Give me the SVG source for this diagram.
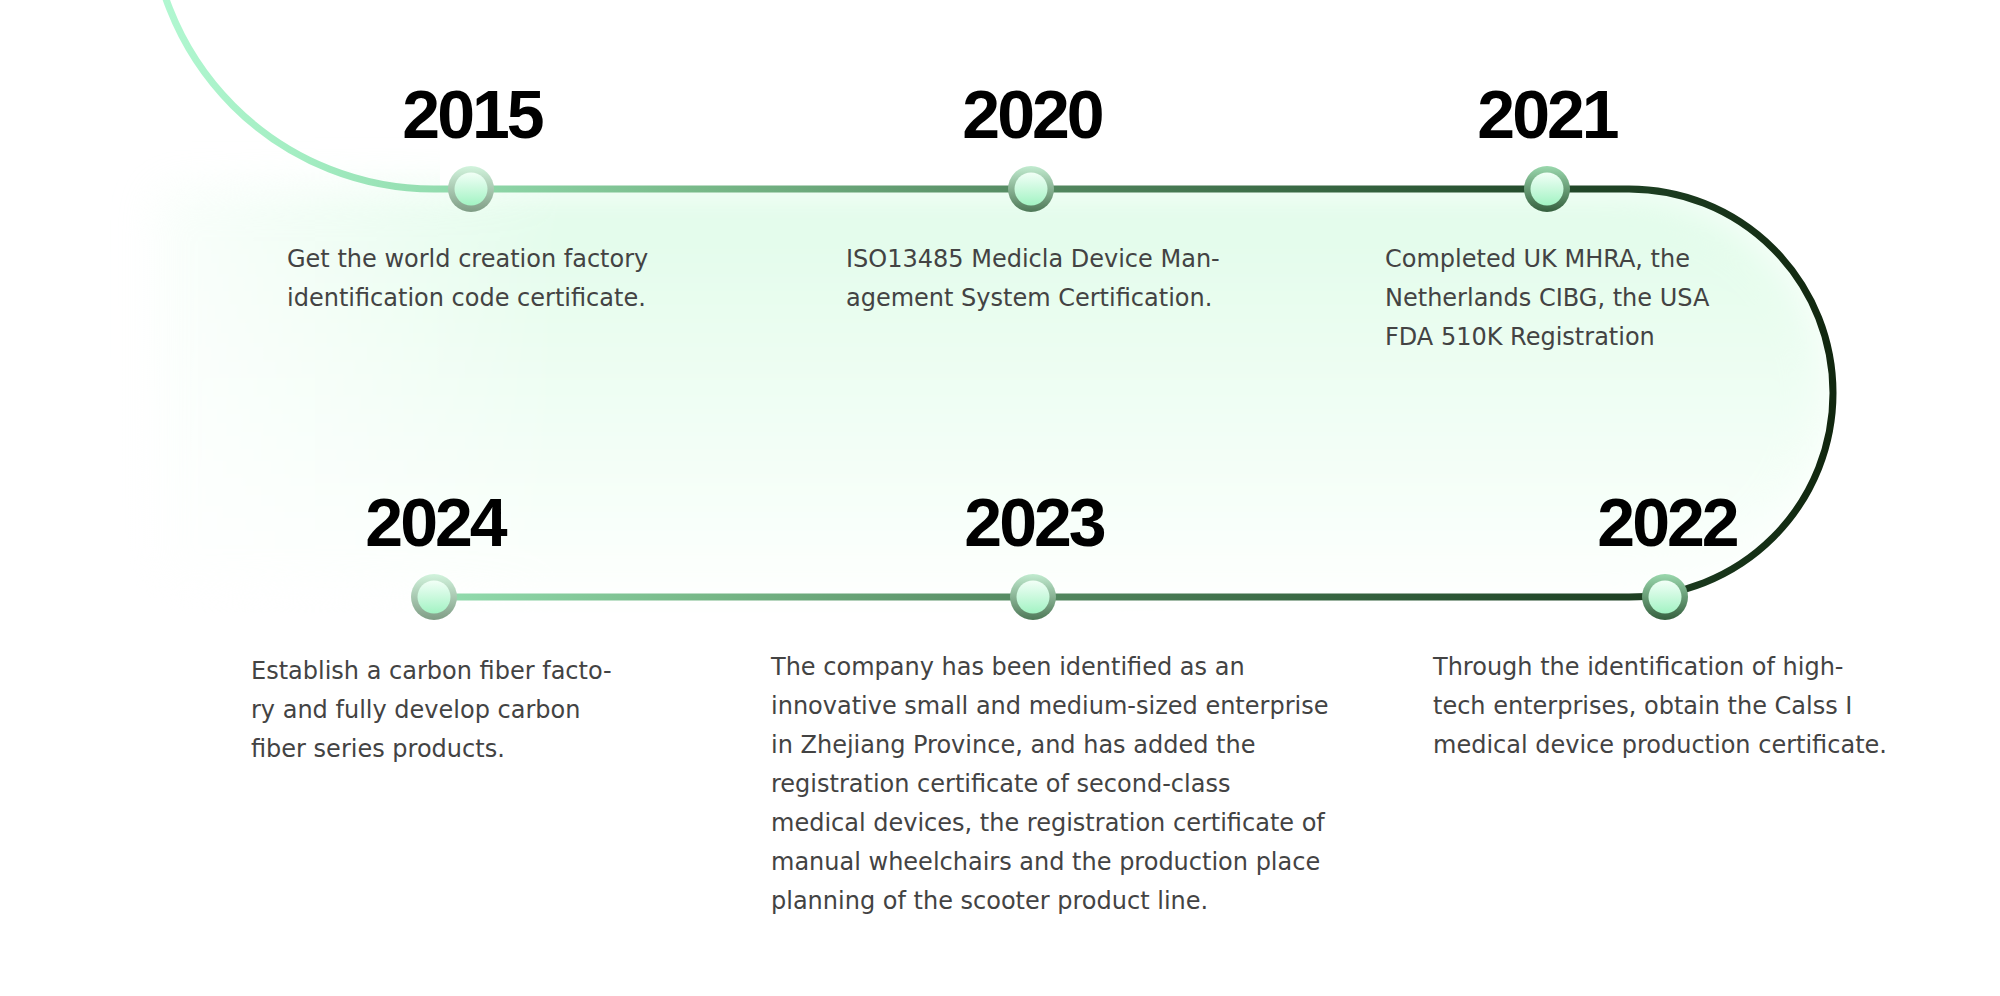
<svg xmlns="http://www.w3.org/2000/svg" width="2000" height="996" viewBox="0 0 2000 996">
<style>
.yr{font-family:"Liberation Sans",Arial,sans-serif;font-weight:700;font-size:68px;letter-spacing:-3px;fill:#000;text-anchor:middle}
.ds{font-family:"DejaVu Sans","Noto Sans",sans-serif;font-size:24px;fill:#434343}
</style>
<defs>
<linearGradient id="lineG" gradientUnits="userSpaceOnUse" x1="150" y1="0" x2="1833" y2="0">
<stop offset="0" stop-color="#b2f8d2"/>
<stop offset="0.09" stop-color="#a3edc2"/>
<stop offset="0.19" stop-color="#8fd8aa"/>
<stop offset="0.33" stop-color="#77b888"/>
<stop offset="0.52" stop-color="#558a62"/>
<stop offset="0.68" stop-color="#3a6a45"/>
<stop offset="0.83" stop-color="#234a2b"/>
<stop offset="1" stop-color="#11270f"/>
</linearGradient>
<linearGradient id="fillG" gradientUnits="userSpaceOnUse" x1="0" y1="189" x2="0" y2="620">
<stop offset="0" stop-color="#e0fce9"/>
<stop offset="0.55" stop-color="#f1fef5"/>
<stop offset="1" stop-color="#ffffff"/>
</linearGradient>
<linearGradient id="maskG" gradientUnits="userSpaceOnUse" x1="70" y1="0" x2="560" y2="0">
<stop offset="0" stop-color="#000"/>
<stop offset="1" stop-color="#fff"/>
</linearGradient>
<mask id="leftFade" maskUnits="userSpaceOnUse" x="0" y="0" width="2000" height="996">
<rect x="0" y="0" width="2000" height="996" fill="url(#maskG)"/>
</mask>
<clipPath id="fillClip">
<path d="M0,100 L440,140 L440,189 L1629,189 A204,204 0 0 1 1629,597 L1000,615 L0,690 Z"/>
</clipPath>
<filter id="soft" x="-10%" y="-20%" width="120%" height="140%">
<feGaussianBlur stdDeviation="22"/>
</filter>
<linearGradient id="ringL" x1="0" y1="0" x2="0" y2="1">
<stop offset="0" stop-color="#d2f4dd"/>
<stop offset="1" stop-color="#7f9c85"/>
</linearGradient>
<linearGradient id="ringM" x1="0" y1="0" x2="0" y2="1">
<stop offset="0" stop-color="#c2ecd0"/>
<stop offset="1" stop-color="#4e7857"/>
</linearGradient>
<linearGradient id="ringD" x1="0" y1="0" x2="0" y2="1">
<stop offset="0" stop-color="#9ad8ad"/>
<stop offset="1" stop-color="#355f3e"/>
</linearGradient>
<linearGradient id="innerG" x1="0" y1="0" x2="0" y2="1">
<stop offset="0" stop-color="#f2fff7"/>
<stop offset="1" stop-color="#a2f3c3"/>
</linearGradient>
</defs>
<rect x="0" y="0" width="2000" height="996" fill="#ffffff"/>
<g clip-path="url(#fillClip)">
<g mask="url(#leftFade)">
<path d="M150,189 L1629,189 A204,204 0 0 1 1629,597 L150,597 Z" fill="url(#fillG)" filter="url(#soft)"/>
</g>
</g>

<g id="connectors">
<path d="M150,-96 A284,284 0 0 0 434,189 L1629,189 A204,204 0 0 1 1629,597 L434,597" fill="none" stroke="url(#lineG)" stroke-width="7"/>
</g>

<g id="node-2015">
<text class="yr" x="472" y="138">2015</text>
<circle cx="471" cy="189" r="23" fill="url(#ringL)"/>
<circle cx="471" cy="189" r="16.5" fill="url(#innerG)"/>
<text class="ds" x="287" y="267">Get the world creation factory</text>
<text class="ds" x="287" y="306">identification code certificate.</text>
</g>

<g id="node-2020">
<text class="yr" x="1032" y="138">2020</text>
<circle cx="1031" cy="189" r="23" fill="url(#ringM)"/>
<circle cx="1031" cy="189" r="16.5" fill="url(#innerG)"/>
<text class="ds" x="846" y="267">ISO13485 Medicla Device Man-</text>
<text class="ds" x="846" y="306">agement System Certification.</text>
</g>

<g id="node-2021">
<text class="yr" x="1547" y="138">2021</text>
<circle cx="1547" cy="189" r="23" fill="url(#ringD)"/>
<circle cx="1547" cy="189" r="16.5" fill="url(#innerG)"/>
<text class="ds" x="1385" y="267">Completed UK MHRA, the</text>
<text class="ds" x="1385" y="306">Netherlands CIBG, the USA</text>
<text class="ds" x="1385" y="345">FDA 510K Registration</text>
</g>

<g id="node-2022">
<text class="yr" x="1667" y="546">2022</text>
<circle cx="1665" cy="597" r="23" fill="url(#ringD)"/>
<circle cx="1665" cy="597" r="16.5" fill="url(#innerG)"/>
<text class="ds" x="1433" y="675">Through the identification of high-</text>
<text class="ds" x="1433" y="714">tech enterprises, obtain the Calss I</text>
<text class="ds" x="1433" y="753">medical device production certificate.</text>
</g>

<g id="node-2023">
<text class="yr" x="1034" y="546">2023</text>
<circle cx="1033" cy="597" r="23" fill="url(#ringM)"/>
<circle cx="1033" cy="597" r="16.5" fill="url(#innerG)"/>
<text class="ds" x="771" y="675">The company has been identified as an</text>
<text class="ds" x="771" y="714">innovative small and medium-sized enterprise</text>
<text class="ds" x="771" y="753">in Zhejiang Province, and has added the</text>
<text class="ds" x="771" y="792">registration certificate of second-class</text>
<text class="ds" x="771" y="831">medical devices, the registration certificate of</text>
<text class="ds" x="771" y="870">manual wheelchairs and the production place</text>
<text class="ds" x="771" y="909">planning of the scooter product line.</text>
</g>

<g id="node-2024">
<text class="yr" x="435" y="546">2024</text>
<circle cx="434" cy="597" r="23" fill="url(#ringL)"/>
<circle cx="434" cy="597" r="16.5" fill="url(#innerG)"/>
<text class="ds" x="251" y="679">Establish a carbon fiber facto-</text>
<text class="ds" x="251" y="718">ry and fully develop carbon</text>
<text class="ds" x="251" y="757">fiber series products.</text>
</g>
</svg>
